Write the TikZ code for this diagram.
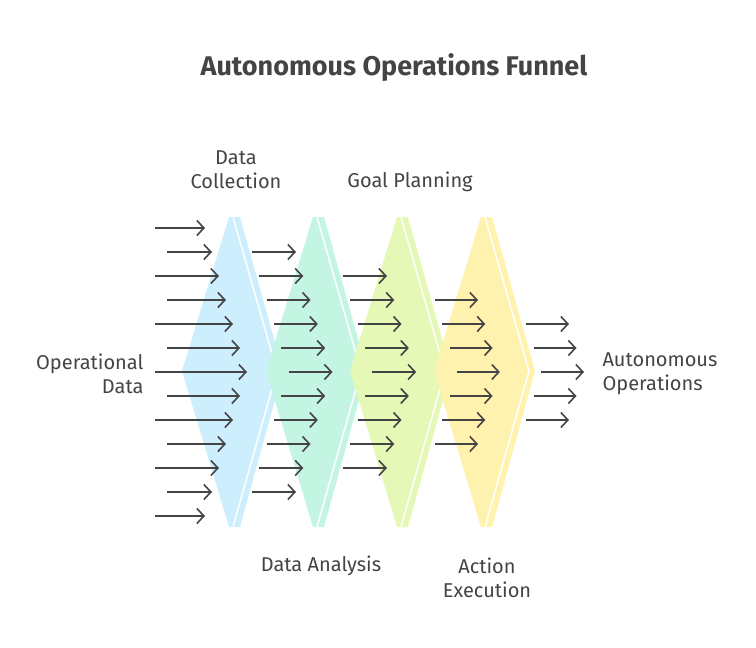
\documentclass[tikz,border=0pt]{standalone}
\usepackage{fontspec}
\setmainfont{Fira Sans}
\usetikzlibrary{arrows.meta}
\definecolor{cA}{HTML}{CDEEFD}
\definecolor{cB}{HTML}{C3F5E2}
\definecolor{cC}{HTML}{E5F8B6}
\definecolor{cD}{HTML}{FFF2AE}
\definecolor{ink}{HTML}{444444}
\tikzset{
  arr/.style={draw=ink,line width=1.6pt,-{Straight Barb[length=7pt,width=15pt,line width=1.6pt]}},
  lbl/.style={text=ink,font=\fontsize{20}{24}\selectfont,align=center},
}
\newcommand{\chev}[2]{% left x, top x, color
  \fill[#2] (#1-47,371) -- (#1,217) -- (#1+11,217) -- (#1+54,371) -- (#1+11,527) -- (#1,527) -- cycle;
  \draw[white,line width=1.5pt] (#1+4,217) -- (#1+48,371) -- (#1+4,527);
}
\begin{document}
\begin{tikzpicture}[x=1pt,y=-1pt]
\useasboundingbox (0,0) rectangle (756,648);
\chev{229}{cA}
\chev{313}{cB}
\chev{397}{cC}
\chev{481}{cD}
% column 1
\foreach \i in {0,...,12}{
  \pgfmathsetmacro{\y}{228+24*\i}
  \pgfmathsetmacro{\d}{6-abs(\i-6)}
  \pgfmathsetmacro{\s}{mod(\i,2)==0 ? 155 : 167}
  \draw[arr] (\s,\y) -- (205+7*\d,\y);
}
% column 2
\foreach \i in {0,...,10}{
  \pgfmathsetmacro{\y}{252+24*\i}
  \pgfmathsetmacro{\d}{5-abs(\i-5)}
  \draw[arr] (252+7.3*\d,\y) -- (296+7.3*\d,\y);
}
% column 3
\foreach \i in {0,...,8}{
  \pgfmathsetmacro{\y}{276+24*\i}
  \pgfmathsetmacro{\d}{4-abs(\i-4)}
  \draw[arr] (343+7.3*\d,\y) -- (387+7.3*\d,\y);
}
% column 4
\foreach \i in {0,...,6}{
  \pgfmathsetmacro{\y}{300+24*\i}
  \pgfmathsetmacro{\d}{3-abs(\i-3)}
  \draw[arr] (435+7.3*\d,\y) -- (478+7.3*\d,\y);
}
% column 5
\foreach \i in {0,...,4}{
  \pgfmathsetmacro{\y}{324+24*\i}
  \pgfmathsetmacro{\d}{2-abs(\i-2)}
  \draw[arr] (526+7.5*\d,\y) -- (569+7.5*\d,\y);
}
\node[text=ink,font=\fontsize{27}{32}\selectfont\bfseries] (title) at (394,68) {Autonomous Operations Funnel};
\node[lbl] (dc) at (236,170) {Data\\Collection};
\node[lbl] (gp) at (410,182) {Goal Planning};
\node[lbl] (da) at (321,566) {Data Analysis};
\node[lbl] (ae) at (487,578) {Action\\Execution};
\node[lbl,align=right,anchor=east] (od) at (147,374) {Operational\\Data};
\node[lbl,align=left,anchor=west] (ao) at (599,374) {Autonomous\\Operations};
\end{tikzpicture}
\end{document}
